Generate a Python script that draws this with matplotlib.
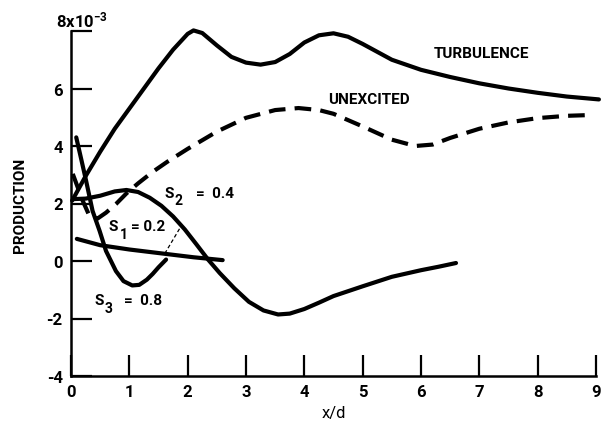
import matplotlib
matplotlib.use("Agg")
import matplotlib.pyplot as plt
from matplotlib.transforms import offset_copy

plt.rcParams['font.family'] = ['Roboto', 'DejaVu Sans']
plt.rcParams['font.weight'] = 'bold'
plt.rcParams['mathtext.fontset'] = 'custom'
plt.rcParams['mathtext.rm'] = 'Roboto:bold'

# Production along the jet, x/d vs production (x 10^-3)
turb_x = [0.02, 0.25, 0.5, 0.75, 1.0, 1.25, 1.5, 1.75, 2.0, 2.1, 2.25, 2.5, 2.75,
          3.0, 3.25, 3.5, 3.75, 4.0, 4.25, 4.5, 4.75, 5.0, 5.5, 6.0, 6.5, 7.0,
          7.5, 8.0, 8.5, 9.05]
turb_y = [2.1, 2.95, 3.8, 4.6, 5.3, 6.0, 6.7, 7.35, 7.9, 8.02, 7.93, 7.5, 7.1,
          6.9, 6.83, 6.92, 7.2, 7.6, 7.85, 7.92, 7.8, 7.55, 7.0, 6.65, 6.4, 6.18,
          6.0, 5.85, 5.72, 5.62]

unex_x = [0.03, 0.2, 0.32, 0.45, 0.6, 0.77, 0.95, 1.15, 1.4, 1.65, 2.0, 2.5, 3.0,
          3.5, 3.9, 4.25, 4.5, 5.0, 5.5, 5.9, 6.2, 6.5, 7.0, 7.5, 8.0, 8.5, 8.95]
unex_y = [3.03, 2.1, 1.55, 1.47, 1.68, 1.98, 2.35, 2.7, 3.1, 3.45, 3.9, 4.5, 4.98,
          5.25, 5.32, 5.25, 5.12, 4.68, 4.22, 4.0, 4.05, 4.28, 4.6, 4.82, 4.97,
          5.05, 5.08]

s1_x = [0.1, 0.5, 1.0, 1.65, 2.1, 2.6]
s1_y = [0.77, 0.55, 0.4, 0.24, 0.13, 0.03]

s2_x = [0.0, 0.25, 0.5, 0.75, 0.95, 1.15, 1.35, 1.55, 1.75, 1.95, 2.15, 2.35,
        2.55, 2.8, 3.05, 3.3, 3.55, 3.75, 4.0, 4.25, 4.5, 5.0, 5.5, 6.0, 6.3, 6.6]
s2_y = [2.15, 2.17, 2.27, 2.42, 2.47, 2.4, 2.2, 1.92, 1.55, 1.1, 0.58, 0.05,
        -0.42, -0.95, -1.42, -1.72, -1.86, -1.83, -1.67, -1.45, -1.22, -0.88,
        -0.55, -0.32, -0.2, -0.07]

s3_x = [0.09, 0.18, 0.26, 0.37, 0.49, 0.6, 0.77, 0.9, 1.05, 1.17, 1.3, 1.4, 1.5, 1.63]
s3_y = [4.3, 3.5, 2.78, 1.74, 1.05, 0.35, -0.35, -0.7, -0.85, -0.83, -0.65, -0.45,
        -0.22, 0.05]

x_ticks = [0, 1, 2, 3, 4, 5, 6, 7, 8, 9]
y_ticks = [-4, -2, 0, 2, 4, 6, 8]
y_tick_labels = ['-4', '-2', '0', '2', '4', '6', '']

fig = plt.figure(figsize=(6.14, 4.31), dpi=100)
ax = fig.add_axes([71 / 614, 54 / 431, 525 / 614, 345 / 431])

lw = 3.0
ax.plot(turb_x, turb_y, color='black', lw=lw, clip_on=False, solid_capstyle='round')
ax.plot(unex_x, unex_y, color='black', lw=lw, dashes=(4.0, 2.2), clip_on=False)
ax.plot(s1_x, s1_y, color='black', lw=lw, solid_capstyle='round')
ax.plot(s2_x, s2_y, color='black', lw=lw, solid_capstyle='round')
ax.plot(s3_x, s3_y, color='black', lw=lw, solid_capstyle='round')

# leader from the S1 label to its curve
ax.plot([1.86, 1.62], [1.12, 0.3], color='black', lw=0.9, dashes=(3, 2))

fs = 11
ax.text(7.03, 7.23, 'TURBULENCE', fontsize=fs, ha='center', va='center')
ax.text(5.11, 5.63, 'UNEXCITED', fontsize=fs, ha='center', va='center')


def s_label(x, y, sub, rest, sub_dx, sub_dy, rest_dx):
    """Draw 'S' with a large lowered subscript followed by '= value'."""
    ax.text(x, y, 'S', fontsize=fs, ha='left', va='center')
    ax.text(x, y, sub, fontsize=10, ha='left', va='center',
            transform=offset_copy(ax.transData, fig, x=sub_dx, y=sub_dy, units='dots'))
    ax.text(x, y, rest, fontsize=fs, ha='left', va='center',
            transform=offset_copy(ax.transData, fig, x=rest_dx, y=0, units='dots'))


s_label(1.61, 2.37, '2', '=  0.4', 10, -7, 31)
s_label(0.65, 1.22, '1', '= 0.2', 11, -8, 22)
s_label(0.41, -1.34, '3', '=  0.8', 10, -8, 29)

ax.set_xlim(0, 9)
ax.set_ylim(-4, 8)
ax.set_xticks(x_ticks)
ax.set_yticks(y_ticks)
ax.set_yticklabels(y_tick_labels)
ax.tick_params(direction='in', length=15, width=1.6, labelsize=12, pad=6)
for side in ('top', 'right'):
    ax.spines[side].set_visible(False)
for side in ('left', 'bottom'):
    ax.spines[side].set_linewidth(1.8)

ax.set_xlabel('x/d', fontsize=12, labelpad=4)
fig.text(20 / 614, 1 - 205 / 431, 'PRODUCTION', rotation=90, fontsize=fs,
         ha='center', va='center')
fig.text(82 / 614, 1 - 27 / 431, r'$\mathregular{8x10^{-3}}$', fontsize=12,
         ha='center', va='baseline')

fig.savefig('out.png', dpi=100)
